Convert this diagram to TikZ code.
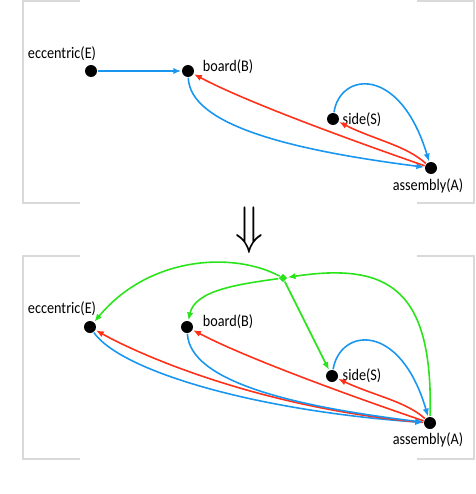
\documentclass[tikz,border=0pt]{standalone}
\usepackage{fontspec}
\setmainfont{Carlito}
\newfontfamily\partfont[FakeStretch=0.88]{Carlito}
\usetikzlibrary{arrows.meta,shapes.geometric}
\definecolor{eblue}{RGB}{24,150,240}
\definecolor{ered}{RGB}{255,48,24}
\definecolor{egreen}{RGB}{40,228,24}

\begin{document}
\begin{tikzpicture}[
  x=0.02cm, y=-0.02cm, line width=0.9pt,
  part/.style={circle,fill=black,inner sep=0pt,minimum size=0.24cm},
  partlabel/.style={inner sep=0pt,font=\partfont\fontsize{9.2}{10}\selectfont},
  junction/.style={diamond,fill=egreen,inner sep=0pt,minimum size=0.18cm},
  flow/.style={-{Latex[length=4.5pt,width=3.6pt]}},
  frame/.style={draw=black!15,line width=1.2pt}
]
  \useasboundingbox (0,0) rectangle (476,494);
  % frames
  \draw[frame] (80,1) -- (23,1) -- (23,203) -- (80,203);
  \draw[frame] (417,1) -- (474,1) -- (474,203) -- (417,203);
  \draw[frame] (80,256) -- (23,256) -- (23,459) -- (80,459);
  \draw[frame] (417,256) -- (474,256) -- (474,459) -- (417,459);

  % upper graph
  \node[part] (E1) at (91,71) {};
  \node[part] (B1) at (188,71) {};
  \node[part] (S1) at (333,119) {};
  \node[part] (A1) at (431,168) {};
  \node[partlabel] (lE1) at (62,54) {eccentric(E)};
  \node[partlabel] (lB1) at (228,67) {board(B)};
  \node[partlabel] (lS1) at (362,120) {side(S)};
  \node[partlabel] (lA1) at (428,186) {assembly(A)};
  \draw[flow,eblue] (E1) -- (B1);
  \draw[flow,eblue] (B1) .. controls (190,125) and (290,150) .. (A1);
  \draw[flow,ered] (A1) .. controls (365,145) and (250,104) .. (B1);
  \draw[flow,ered] (A1) .. controls (405,145) and (375,140) .. (S1);
  \draw[flow,eblue] (S1) .. controls (340,72) and (400,65) .. (A1);

  \node (down) at (249,230) {\scalebox{2.6}[3]{$\Downarrow$}};

  % lower graph
  \node[part] (E2) at (90,327) {};
  \node[part] (B2) at (187,327) {};
  \node[part] (S2) at (332,376) {};
  \node[part] (A2) at (430,423) {};
  \node[junction] (D) at (283,278) {};
  \node[partlabel] (lE2) at (62,309) {eccentric(E)};
  \node[partlabel] (lB2) at (228,322) {board(B)};
  \node[partlabel] (lS2) at (362,376) {side(S)};
  \node[partlabel] (lA2) at (428,440) {assembly(A)};
  \draw[flow,eblue] (E2) .. controls (120,370) and (250,410) .. (A2);
  \draw[flow,ered] (A2) .. controls (260,408) and (140,355) .. (E2);
  \draw[flow,eblue] (B2) .. controls (190,381) and (290,406) .. (A2);
  \draw[flow,ered] (A2) .. controls (365,401) and (250,360) .. (B2);
  \draw[flow,ered] (A2) .. controls (405,401) and (375,396) .. (S2);
  \draw[flow,eblue] (S2) .. controls (340,328) and (400,321) .. (A2);
  \draw[flow,egreen] (D) .. controls (235,252) and (150,255) .. (E2);
  \draw[flow,egreen] (D) .. controls (240,284) and (195,290) .. (B2);
  \draw[flow,egreen] (D) -- (S2);
  \draw[flow,egreen] (A2) .. controls (433,290) and (390,262) .. (D);
\end{tikzpicture}
\end{document}
